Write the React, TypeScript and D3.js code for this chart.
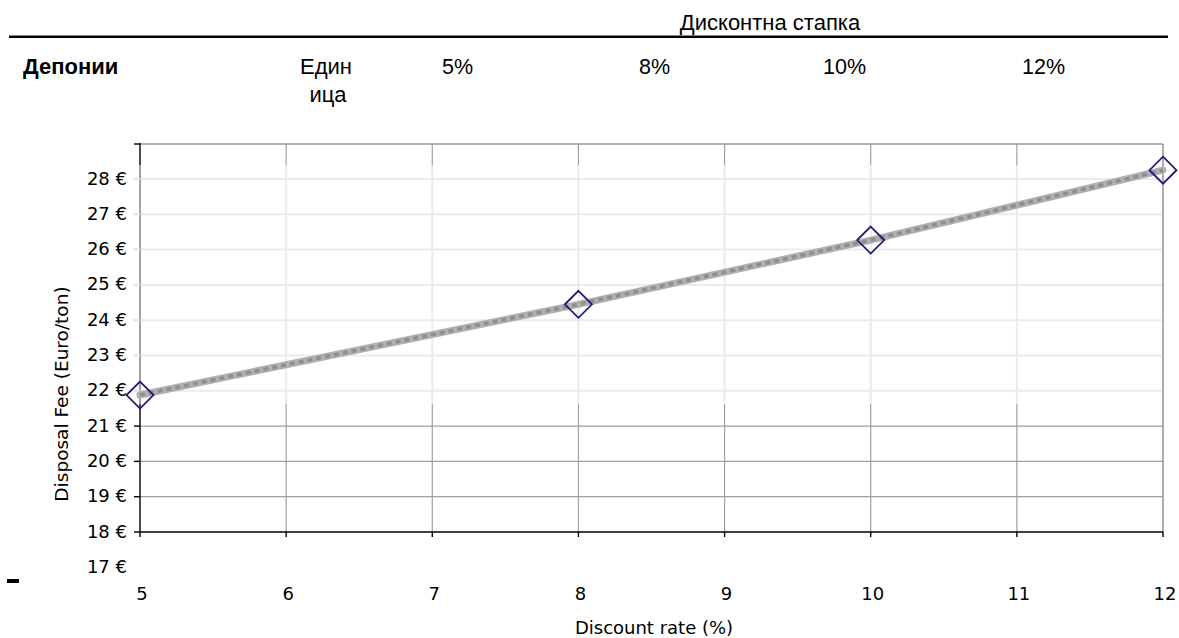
import React from "react";
import * as d3 from "d3";

// ---- data ----
const discountRates = [5, 8, 10, 12];
const disposalFees = [21.88, 24.45, 26.27, 28.25];
const xTickValues = [5, 6, 7, 8, 9, 10, 11, 12];
const yTickValues = [17, 18, 19, 20, 21, 22, 23, 24, 25, 26, 27, 28];
const headerRates = ["5%", "8%", "10%", "12%"];
const headerTitle = "Дисконтна стапка";
const rowLabel = "Депонии";
const unitLabel = ["Един", "ица"];
const xTitle = "Discount rate (%)";
const yTitle = "Disposal Fee (Euro/ton)";

// ---- layout ----
const W = 1179;
const H = 638;
const headerRateX = [442, 639, 823, 1022];
const left = 140;
const right = 1163;
const top = 144;
const bottom = 532;
const imgTop = 165;
const imgBottom = 404;
const chartFont = "'DejaVu Sans', Verdana, sans-serif";
const docFont = "'Liberation Sans', Arial, sans-serif";

export default function App() {
  const x = d3.scaleLinear().domain([5, 12]).range([left, right]);
  const y = d3.scaleLinear().domain([18, 28]).range([bottom, 179]);
  const pts = discountRates.map((r, i) => [x(r), y(disposalFees[i])] as [number, number]);
  const line = d3.line()(pts) || "";
  const dark = "#a0a0a0";
  const faint = "#ebebeb";
  const s = 13.5;
  return (
    <svg
      width={W}
      height={H}
      style={{ position: "absolute", left: 0, top: 0, background: "#fff" }}
    >
      <rect x={0} y={0} width={W} height={H} fill="#fff" />
      {/* document header */}
      <text x={770} y={30} fontFamily={docFont} fontSize={22} textAnchor="middle" fill="#000">
        {headerTitle}
      </text>
      <line x1={9} x2={1168} y1={36.8} y2={36.8} stroke="#000" strokeWidth={2.6} />
      <text x={23} y={74} fontFamily={docFont} fontSize={22} fontWeight="bold" fill="#000">
        {rowLabel}
      </text>
      <text x={326} y={74} fontFamily={docFont} fontSize={22} textAnchor="middle" fill="#000">
        {unitLabel[0]}
      </text>
      <text x={328} y={102} fontFamily={docFont} fontSize={22} textAnchor="middle" fill="#000">
        {unitLabel[1]}
      </text>
      {headerRates.map((t, i) => (
        <text key={t} x={headerRateX[i]} y={74} fontFamily={docFont} fontSize={21.5} fill="#000">
          {t}
        </text>
      ))}

      {/* horizontal gridlines */}
      {yTickValues
        .filter((v) => v > 18)
        .map((v) => {
          const yy = y(v);
          const inImg = yy > imgTop && yy < imgBottom;
          return (
            <line
              key={"h" + v}
              x1={inImg ? 133 : left}
              x2={right}
              y1={yy}
              y2={yy}
              stroke={inImg ? faint : dark}
              strokeWidth={inImg ? 2 : 1.2}
            />
          );
        })}
      {/* vertical gridlines */}
      {xTickValues
        .filter((v) => v > 5 && v < 12)
        .map((v) => (
          <g key={"v" + v}>
            <line x1={x(v)} x2={x(v)} y1={top} y2={imgTop} stroke={dark} strokeWidth={1.2} />
            <line x1={x(v)} x2={x(v)} y1={imgTop} y2={imgBottom} stroke={faint} strokeWidth={2} />
            <line x1={x(v)} x2={x(v)} y1={imgBottom} y2={bottom} stroke={dark} strokeWidth={1.2} />
          </g>
        ))}
      {/* plot border top / right */}
      <line x1={left} x2={right} y1={top} y2={top} stroke="#999" strokeWidth={1.6} />
      <line x1={right} x2={right} y1={top} y2={bottom} stroke="#999" strokeWidth={1.6} />

      {/* y axis */}
      <line x1={left} x2={left} y1={top - 1} y2={imgTop} stroke="#000" strokeWidth={1.4} />
      <line x1={left} x2={left} y1={imgTop} y2={imgBottom} stroke="#8a8a8a" strokeWidth={1.6} />
      <line x1={left} x2={left} y1={imgBottom} y2={bottom} stroke="#000" strokeWidth={1.4} />
      <line x1={134} x2={left} y1={top} y2={top} stroke="#000" strokeWidth={1.4} />
      {yTickValues
        .filter((v) => v >= 18)
        .map((v) => {
          const yy = y(v);
          const inImg = yy > imgTop && yy < imgBottom;
          return (
            <line
              key={"yt" + v}
              x1={134}
              x2={left}
              y1={yy}
              y2={yy}
              stroke={inImg ? "#e6e6e6" : "#000"}
              strokeWidth={inImg ? 2 : 1.4}
            />
          );
        })}
      {yTickValues.map((v) => (
        <text
          key={"yl" + v}
          x={127}
          y={y(v) + 5.5}
          fontFamily={chartFont}
          fontSize={18}
          textAnchor="end"
          fill="#000"
        >
          {v} €
        </text>
      ))}

      {/* x axis */}
      <line x1={left} x2={right} y1={bottom} y2={bottom} stroke="#000" strokeWidth={1.5} />
      {xTickValues.map((v) => (
        <g key={"xt" + v}>
          <line x1={x(v)} x2={x(v)} y1={bottom} y2={bottom + 5} stroke="#000" strokeWidth={1.4} />
          <text x={x(v) + 2} y={600} fontFamily={chartFont} fontSize={18} textAnchor="middle" fill="#000">
            {v}
          </text>
        </g>
      ))}
      <text x={654} y={634} fontFamily={chartFont} fontSize={18} textAnchor="middle" fill="#000">
        {xTitle}
      </text>
      <text
        transform={`translate(68,394) rotate(-90)`}
        fontFamily={chartFont}
        fontSize={18.5}
        textAnchor="middle"
        fill="#000"
      >
        {yTitle}
      </text>

      {/* data line */}
      <path d={line} fill="none" stroke="#b0b0b0" strokeWidth={7} strokeLinecap="round" />
      <path d={line} fill="none" stroke="#8e8e8e" strokeWidth={3.5} strokeDasharray="5 4" />
      {pts.map(([px, py], i) => (
        <path
          key={"m" + i}
          d={`M${px},${py - s}L${px + s},${py}L${px},${py + s}L${px - s},${py}Z`}
          fill="none"
          stroke="#1c1c7a"
          strokeWidth={1.8}
        />
      ))}

      {/* stray mark bottom-left */}
      <rect x={7} y={579} width={12} height={4} fill="#000" />
    </svg>
  );
}
